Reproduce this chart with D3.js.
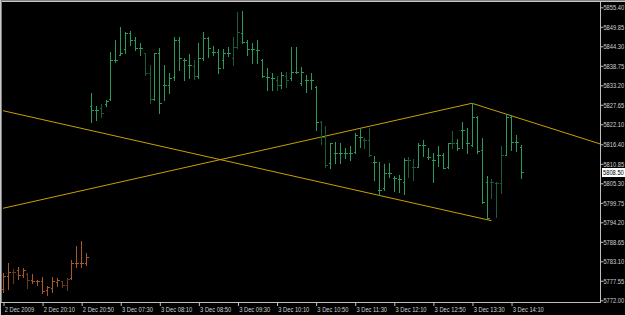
<!DOCTYPE html>
<html>
<head>
<meta charset="utf-8">
<script src="https://cdn.jsdelivr.net/npm/d3@7"></script>
<style>
  body { margin: 0; background: #d4d0c8; }
  svg { display: block; }
  text { font-family: "Liberation Sans", Arial, sans-serif; font-size: 8px; }
</style>
</head>
<body>
<div id="chart"></div>
<script>
// OHLC, one row per 5 minute bar: [open, high, low, close]
var ohlc = [
	[5775.22, 5779.69, 5774.45, 5778.92],
	[5778.92, 5782.53, 5775.13, 5780.06],
	[5780.06, 5780.82, 5777.01, 5780.14],
	[5780.63, 5781.39, 5777.98, 5779.20],
	[5779.20, 5781.11, 5778.55, 5780.63],
	[5779.49, 5779.69, 5775.42, 5777.78],
	[5777.78, 5779.49, 5776.84, 5777.58],
	[5777.49, 5777.78, 5776.36, 5777.49],
	[5777.49, 5778.72, 5773.99, 5774.73],
	[5774.93, 5776.07, 5773.42, 5775.79],
	[5775.50, 5778.72, 5774.36, 5777.49],
	[5777.21, 5778.26, 5776.07, 5777.78],
	[5777.49, 5777.58, 5775.70, 5776.36],
	[5776.36, 5778.26, 5774.93, 5778.06],
	[5778.26, 5783.47, 5777.98, 5782.53],
	[5782.62, 5787.46, 5781.39, 5782.53],
	[5782.62, 5788.88, 5781.56, 5782.53],
	[5782.62, 5785.38, 5782.05, 5784.41],
	[5827.31, 5830.92, 5822.84, 5826.17],
	[5826.17, 5827.31, 5823.32, 5826.17],
	[5826.74, 5827.88, 5824.26, 5825.32],
	[5827.88, 5829.02, 5827.31, 5828.73],
	[5829.22, 5842.77, 5829.02, 5840.40],
	[5840.40, 5846.10, 5839.92, 5840.40],
	[5841.83, 5849.71, 5841.83, 5842.31],
	[5843.45, 5848.29, 5842.31, 5848.00],
	[5848.00, 5848.66, 5844.67, 5846.10],
	[5846.10, 5846.87, 5843.25, 5843.73],
	[5843.73, 5845.16, 5841.83, 5843.73],
	[5842.31, 5842.31, 5836.13, 5836.79],
	[5836.79, 5838.98, 5828.08, 5829.22],
	[5829.22, 5842.31, 5829.02, 5842.31],
	[5842.31, 5843.73, 5825.23, 5828.08],
	[5833.29, 5838.98, 5829.02, 5833.29],
	[5833.29, 5836.62, 5830.92, 5835.20],
	[5835.48, 5846.87, 5834.71, 5846.10],
	[5846.10, 5846.87, 5837.56, 5840.89],
	[5840.40, 5840.89, 5834.71, 5840.40],
	[5838.98, 5842.11, 5835.20, 5838.98],
	[5838.70, 5840.40, 5834.91, 5835.85],
	[5835.85, 5845.16, 5835.20, 5840.89],
	[5840.89, 5848.29, 5840.40, 5846.58],
	[5846.58, 5847.04, 5841.34, 5843.73],
	[5842.77, 5844.47, 5841.83, 5842.77],
	[5842.77, 5843.45, 5836.62, 5838.04],
	[5840.40, 5843.45, 5838.04, 5842.31],
	[5842.31, 5844.19, 5841.54, 5842.31],
	[5840.89, 5846.87, 5838.98, 5844.19],
	[5844.19, 5854.15, 5843.73, 5848.46],
	[5848.00, 5854.35, 5845.33, 5845.61],
	[5845.61, 5846.10, 5841.83, 5843.45],
	[5843.45, 5845.33, 5839.46, 5843.45],
	[5843.25, 5846.10, 5839.46, 5843.25],
	[5840.40, 5840.60, 5835.48, 5835.85],
	[5835.65, 5838.04, 5831.86, 5835.65],
	[5835.20, 5836.79, 5831.86, 5835.20],
	[5834.71, 5835.85, 5831.86, 5833.29],
	[5833.29, 5837.07, 5832.35, 5836.13],
	[5835.85, 5837.07, 5832.63, 5834.71],
	[5835.20, 5844.19, 5834.71, 5837.07],
	[5837.07, 5844.19, 5836.62, 5837.07],
	[5833.77, 5838.50, 5833.29, 5837.07],
	[5834.71, 5836.13, 5831.38, 5834.71],
	[5834.71, 5836.62, 5832.06, 5834.71],
	[5832.63, 5833.00, 5820.48, 5822.84],
	[5822.84, 5823.13, 5816.49, 5818.57],
	[5818.57, 5821.62, 5810.03, 5810.52],
	[5811.00, 5816.86, 5809.58, 5816.69],
	[5813.85, 5817.15, 5811.00, 5813.85],
	[5813.85, 5816.86, 5811.17, 5813.85],
	[5813.85, 5815.27, 5812.42, 5813.85],
	[5813.85, 5815.92, 5811.94, 5813.85],
	[5814.30, 5819.54, 5813.85, 5819.05],
	[5818.57, 5820.96, 5815.55, 5818.57],
	[5817.63, 5818.29, 5815.27, 5817.63],
	[5817.63, 5821.13, 5813.08, 5813.36],
	[5811.45, 5813.08, 5806.25, 5811.45],
	[5803.40, 5811.45, 5801.98, 5803.40],
	[5803.88, 5810.80, 5803.40, 5808.15],
	[5808.15, 5811.00, 5807.18, 5808.15],
	[5806.73, 5807.38, 5803.20, 5806.73],
	[5806.53, 5807.67, 5802.91, 5806.53],
	[5805.76, 5812.42, 5802.26, 5811.94],
	[5811.94, 5812.71, 5807.01, 5811.94],
	[5810.03, 5812.14, 5806.25, 5810.03],
	[5810.03, 5816.69, 5809.86, 5816.21],
	[5816.21, 5817.63, 5813.08, 5816.21],
	[5812.88, 5815.44, 5812.14, 5812.88],
	[5811.94, 5813.85, 5805.76, 5811.94],
	[5813.36, 5816.01, 5810.32, 5813.36],
	[5813.36, 5814.02, 5809.58, 5809.58],
	[5810.03, 5816.86, 5809.58, 5816.69],
	[5816.69, 5820.19, 5815.27, 5816.69],
	[5816.69, 5817.83, 5814.78, 5815.27],
	[5820.48, 5822.84, 5815.27, 5820.48],
	[5816.69, 5821.13, 5814.02, 5816.69],
	[5816.21, 5828.08, 5815.92, 5824.26],
	[5824.26, 5824.46, 5814.02, 5814.59],
	[5814.78, 5818.12, 5799.78, 5800.07],
	[5805.76, 5807.38, 5795.06, 5795.34],
	[5805.76, 5806.44, 5801.04, 5805.76],
	[5805.31, 5805.76, 5795.80, 5805.31],
	[5805.31, 5815.92, 5802.63, 5813.36],
	[5813.36, 5825.03, 5813.36, 5824.26],
	[5824.26, 5824.75, 5814.78, 5817.15],
	[5817.15, 5819.05, 5814.59, 5817.15],
	[5815.64, 5816.21, 5806.73, 5808.50]
];

// sessions: the first 18 bars are from 2 Dec, the rest from 3 Dec
var sessions = [
	{day: "2 Dec", bars: 18},
	{day: "3 Dec", bars: 89}
];

// bars drawn in the darker shade
var darkBars = [2, 5, 12, 13, 20, 29, 30, 39, 47, 48, 56, 58, 65, 66, 74, 75, 83, 84, 92, 100, 101, 102];

// price axis labels
var priceTicks = [5855.40, 5849.85, 5844.30, 5838.75, 5833.20, 5827.65, 5822.10, 5816.40,
	5810.85, 5805.30, 5799.75, 5794.20, 5788.65, 5783.10, 5777.55, 5772.00];

// time axis: bar index and label
var timeTickBars = [0, 8, 16, 24, 32, 40, 48, 56, 64, 72, 80, 88, 96, 104];
var timeTickLabels = ["2 Dec 2009", "2 Dec 20:10", "2 Dec 20:50", "3 Dec 07:30", "3 Dec 08:10",
	"3 Dec 08:50", "3 Dec 09:30", "3 Dec 10:10", "3 Dec 10:50", "3 Dec 11:30", "3 Dec 12:10",
	"3 Dec 12:50", "3 Dec 13:30", "3 Dec 14:10"];

// trend lines: [bar, price] -> [bar, price]; ray = extend to the right edge
var trendLines = [
	{from: [0, 5825.97], to: [100, 5794.66], ray: false},
	{from: [0, 5798.19], to: [96, 5828.08], ray: false},
	{from: [96, 5828.08], to: [106, 5823.67], ray: true}
];

var lastPrice = 5808.50;

var width = 625;
var height = 315;
var plotRight = 600;
var plotTop = 2;
var plotBottom = 302;
var textSquash = "scale(0.72,1)";

var bg = "#000000";
var axisColor = "#c0c0c0";
var textColor = "#d0d0d0";
var lineColor = "#c8a000";
var colors = {
	"2 Dec": {light: "#a8592a", dark: "#6a3a1e"},
	"3 Dec": {light: "#2a9a5c", dark: "#1a5a38"}
};

/* Scales */
var xScale = d3.scaleLinear()
	.domain([0, ohlc.length - 1])
	.range([3, 3 + 4.885 * (ohlc.length - 1)]);

var yScale = d3.scaleLinear()
	.domain([5772, 5855.4])
	.range([300.3, 7.3]);

var bars = ohlc.map(function(d, i) {
	return {i: i, open: d[0], high: d[1], low: d[2], close: d[3]};
});
var k = 0;
sessions.forEach(function(s) {
	for (var j = 0; j < s.bars; j++) bars[k++].day = s.day;
});
darkBars.forEach(function(i) { bars[i].dark = true; });

var svg = d3.select("#chart").append("svg")
	.attr("width", width)
	.attr("height", height);

svg.append("rect")
	.attr("width", width)
	.attr("height", height)
	.attr("fill", bg);

// window frame
svg.append("line")
	.attr("x1", 0).attr("x2", width).attr("y1", 0.5).attr("y2", 0.5)
	.attr("stroke", "#808080");
svg.append("line")
	.attr("x1", 0).attr("x2", width).attr("y1", 1.5).attr("y2", 1.5)
	.attr("stroke", "#c8c8c8");
svg.append("line")
	.attr("x1", 0.5).attr("x2", 0.5).attr("y1", 0).attr("y2", height)
	.attr("stroke", "#c8c8c8");
svg.append("line")
	.attr("x1", 1.5).attr("x2", 1.5).attr("y1", 1).attr("y2", plotBottom)
	.attr("stroke", "#808080");

var plot = svg.append("g")
	.attr("clip-path", "url(#clip)");
svg.append("clipPath").attr("id", "clip")
	.append("rect")
	.attr("x", 2).attr("y", plotTop)
	.attr("width", plotRight - 2).attr("height", plotBottom - plotTop);

/* trend lines */
plot.selectAll(".trend")
	.data(trendLines).enter()
	.append("line")
	.attr("class", "trend")
	.attr("x1", d => xScale(d.from[0]))
	.attr("y1", d => yScale(d.from[1]))
	.attr("x2", function(d) {
		return d.ray ? plotRight : xScale(d.to[0]);
	})
	.attr("y2", function(d) {
		if (!d.ray) return yScale(d.to[1]);
		var slope = (d.to[1] - d.from[1]) / (d.to[0] - d.from[0]);
		var end = xScale.invert(plotRight);
		return yScale(d.from[1] + slope * (end - d.from[0]));
	})
	.attr("stroke", lineColor)
	.attr("stroke-width", 1);

/* OHLC bars */
var px = d => Math.round(xScale(d.i)) + 0.5;
var barColor = d => d.dark ? colors[d.day].dark : colors[d.day].light;

var barG = plot.append("g")
	.attr("shape-rendering", "crispEdges");

barG.selectAll(".hl")
	.data(bars).enter()
	.append("line")
	.attr("x1", px).attr("x2", px)
	.attr("y1", d => Math.round(yScale(d.high)))
	.attr("y2", d => Math.round(yScale(d.low)) + 1)
	.attr("stroke", barColor);

barG.selectAll(".open")
	.data(bars).enter()
	.append("line")
	.attr("x1", d => px(d) - 2).attr("x2", d => px(d))
	.attr("y1", d => Math.round(yScale(d.open)) + 0.5)
	.attr("y2", d => Math.round(yScale(d.open)) + 0.5)
	.attr("stroke", barColor);

barG.selectAll(".close")
	.data(bars).enter()
	.append("line")
	.attr("x1", d => px(d)).attr("x2", d => px(d) + 2)
	.attr("y1", d => Math.round(yScale(d.close)) + 0.5)
	.attr("y2", d => Math.round(yScale(d.close)) + 0.5)
	.attr("stroke", barColor);

/* axes frame */
svg.append("line")
	.attr("x1", plotRight + 0.5).attr("x2", plotRight + 0.5)
	.attr("y1", plotTop).attr("y2", plotBottom + 0.5)
	.attr("stroke", axisColor);
svg.append("line")
	.attr("x1", 1).attr("x2", plotRight + 1)
	.attr("y1", plotBottom + 0.5).attr("y2", plotBottom + 0.5)
	.attr("stroke", axisColor);

/* price axis */
var yAxis = d3.axisRight(yScale)
	.tickValues(priceTicks)
	.tickFormat(d3.format(".2f"))
	.tickSize(3)
	.tickPadding(1);

var yg = svg.append("g")
	.attr("transform", `translate(${plotRight + 0.5}, 0)`)
	.call(yAxis);
yg.select(".domain").remove();
yg.selectAll(".tick line").attr("stroke", axisColor);
yg.selectAll(".tick text")
	.attr("fill", textColor)
	.attr("transform", textSquash)
	.style("font-size", "8px")
	.style("font-family", "Liberation Sans, Arial, sans-serif");

// last price marker
var lp = yScale(lastPrice);
svg.append("rect")
	.attr("x", plotRight + 2).attr("y", Math.round(lp) - 4)
	.attr("width", 23).attr("height", 9)
	.attr("fill", "#ffffff");
svg.append("text")
	.attr("transform", `translate(${plotRight + 3}, ${lp}) ${textSquash}`)
	.attr("dy", "0.32em")
	.attr("fill", "#000000")
	.text(d3.format(".2f")(lastPrice));

/* time axis */
var xAxis = d3.axisBottom(xScale)
	.tickValues(timeTickBars)
	.tickFormat((d, i) => timeTickLabels[i])
	.tickSize(4)
	.tickPadding(0);

var xg = svg.append("g")
	.attr("transform", `translate(0.5, ${plotBottom})`)
	.call(xAxis);
xg.select(".domain").remove();
xg.selectAll(".tick line").attr("stroke", axisColor);
xg.selectAll(".tick text")
	.attr("fill", textColor)
	.attr("text-anchor", "start")
	.attr("x", 1)
	.attr("transform", textSquash)
	.style("font-size", "8px")
	.style("font-family", "Liberation Sans, Arial, sans-serif");
</script>
</body>
</html>
